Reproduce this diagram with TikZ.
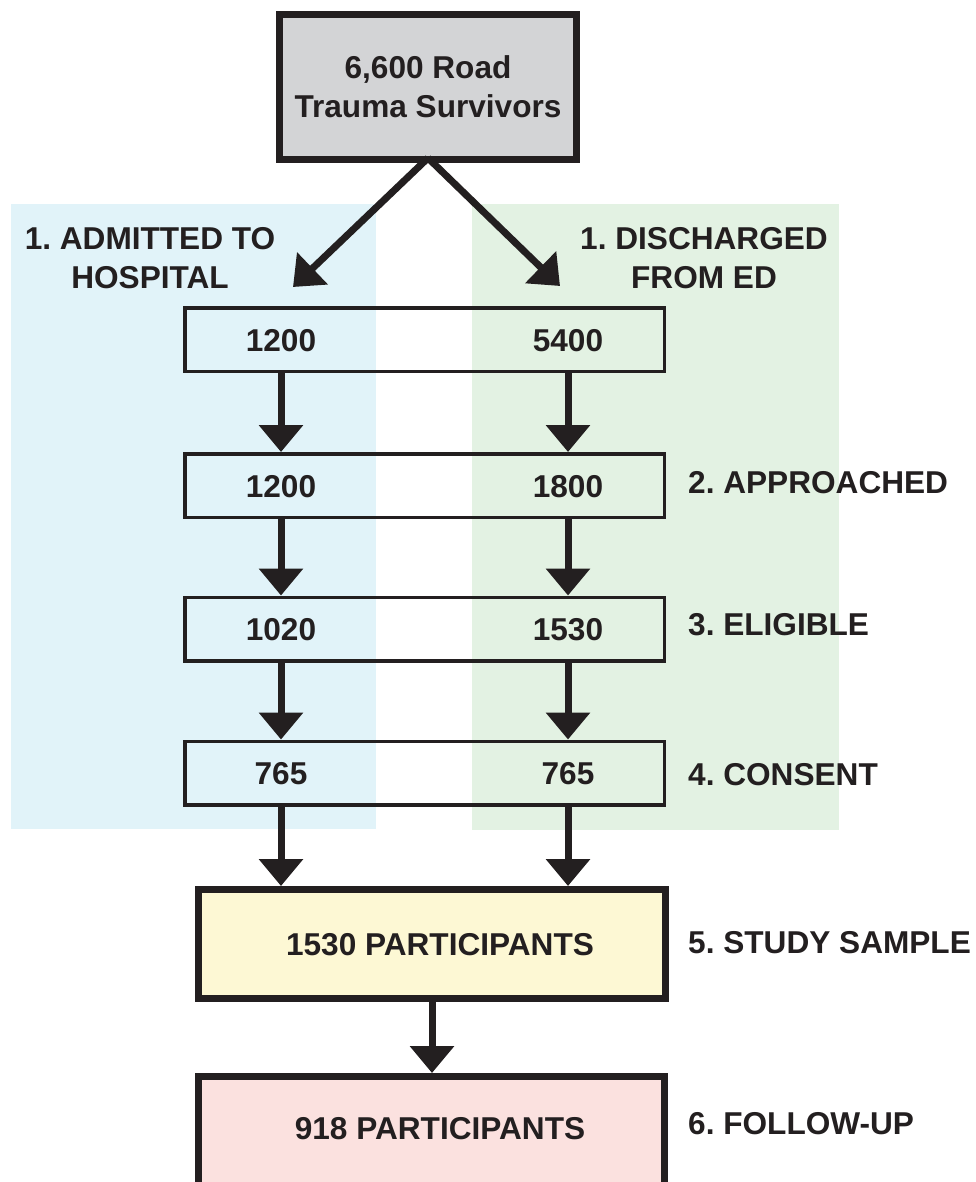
\documentclass[tikz,border=0pt]{standalone}
\usepackage{fontspec}
\setmainfont{Liberation Sans}
\usetikzlibrary{arrows.meta,calc}
\definecolor{ink}{HTML}{231F20}
\definecolor{bgblue}{HTML}{E1F3F9}
\definecolor{bggreen}{HTML}{E3F2E3}
\definecolor{boxgrey}{HTML}{D3D4D6}
\definecolor{boxyellow}{HTML}{FDF8D4}
\definecolor{boxpink}{HTML}{FBE1DF}
\frenchspacing
\begin{document}
\begin{tikzpicture}[x=1pt,y=-1pt,
  txt/.style={font=\fontsize{31.6}{39}\selectfont\bfseries\frenchspacing, text=ink, inner sep=0pt},
  rowbox/.style={draw=ink, line width=3.5pt, minimum width=479.5pt, minimum height=63.5pt, inner sep=0pt},
  bigbox/.style={draw=ink, line width=7pt, inner sep=0pt},
  arr/.style={draw=ink, line width=7pt, -{Triangle[width=43pt,length=27pt]}},
  steplabel/.style={txt, anchor=west},
]
\useasboundingbox (0,0) rectangle (975,1182);
\clip (0,0) rectangle (975,1182);
\fill[white] (0,0) rectangle (975,1182);
% backgrounds
\fill[bgblue] (11,204) rectangle (376,829);
\fill[bggreen] (472,204) rectangle (839,830);

% top box
\node[bigbox, fill=boxgrey, minimum width=297pt, minimum height=145pt, txt, align=center] (top) at (428,87) {6,600 Road\\Trauma Survivors};

% side headings
\node[txt, align=center] (hosp) at (150,258) {1. ADMITTED TO\\HOSPITAL};
\node[txt, align=center] (ed) at (704,258) {1. DISCHARGED\\FROM ED};

% diagonal arrows
\coordinate (tipL) at (293,287);
\coordinate (tipR) at (560,286);
\coordinate (split) at ($(top.south)+(0,-5)$);
\draw[arr] (split) -- (tipL);
\draw[arr] (split) -- (tipR);

% row boxes
\node[rowbox] (r1) at (424.5,339.5) {};
\node[rowbox] (r2) at (424.5,485.5) {};
\node[rowbox] (r3) at (424.5,629) {};
\node[rowbox] (r4) at (424.5,773) {};

% numbers
\node[txt] (L1) at (281,341) {1200};
\node[txt] (R1) at (568,341) {5400};
\node[txt] (L2) at (281,487) {1200};
\node[txt] (R2) at (568,487) {1800};
\node[txt] (L3) at (281,630) {1020};
\node[txt] (R3) at (568,630) {1530};
\node[txt] (L4) at (281,774) {765};
\node[txt] (R4) at (568,774) {765};

% bottom boxes
\node[bigbox, fill=boxyellow, minimum width=467pt, minimum height=109pt] (s5) at (432,944) {};
\node[txt] (s5t) at (440,945) {1530 PARTICIPANTS};
\node[bigbox, fill=boxpink, minimum width=466pt, minimum height=110pt] (s6) at (431.5,1131.5) {};
\node[txt] (s6t) at (440,1129) {918 PARTICIPANTS};

% vertical arrows
\draw[arr] (r1.south -| L1) -- (r2.north -| L1);
\draw[arr] (r1.south -| R1) -- (r2.north -| R1);
\draw[arr] (r2.south -| L2) -- (r3.north -| L2);
\draw[arr] (r2.south -| R2) -- (r3.north -| R2);
\draw[arr] (r3.south -| L3) -- (r4.north -| L3);
\draw[arr] (r3.south -| R3) -- (r4.north -| R3);
\draw[arr] (r4.south -| L4) -- (s5.north -| L4);
\draw[arr] (r4.south -| R4) -- (s5.north -| R4);
\draw[arr] (s5.south) -- (s5.south |- s6.north);

% step labels
\node[steplabel] (st2) at (688,483) {2. APPROACHED};
\node[steplabel] (st3) at (688,625) {3. ELIGIBLE};
\node[steplabel] (st4) at (688,775) {4. CONSENT};
\node[steplabel] (st5) at (688,943) {5. STUDY SAMPLE};
\node[steplabel] (st6) at (688,1124) {6. FOLLOW-UP};
\end{tikzpicture}
\end{document}
